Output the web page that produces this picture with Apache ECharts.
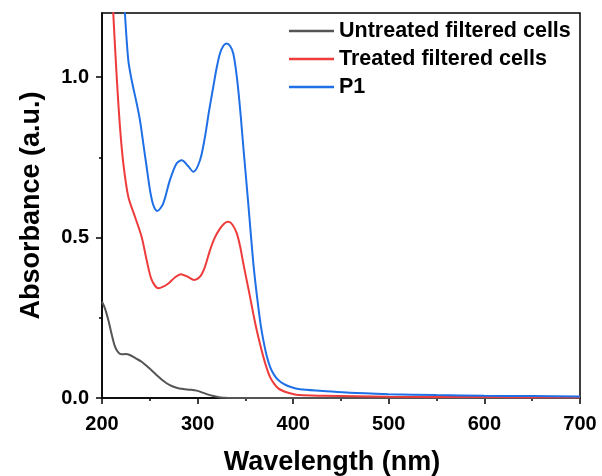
<!DOCTYPE html>
<html>
<head>
<meta charset="utf-8">
<script src="https://cdn.jsdelivr.net/npm/echarts@6/dist/echarts.min.js"></script>
<style>html,body{margin:0;padding:0;background:#fff}#c{width:602px;height:476px}</style>
</head>
<body>
<div id="c"></div>
<script>
const seriesNames = ['Untreated filtered cells', 'Treated filtered cells', 'P1'];
const seriesColors = ['#555555', '#ee3b3b', '#1f6fe6'];

const untreatedWl = [200,203,206.6,210,213.6,217,220.6,225,229,235,241.5,249,257,264,271,278,285,292,299,306,313,320,327,340,400,500,600,700];
const untreatedAbs = [0.30,0.28,0.243,0.20,0.16,0.142,0.136,0.137,0.134,0.124,0.113,0.094,0.072,0.054,0.040,0.032,0.028,0.026,0.023,0.016,0.009,0.004,0.001,0.0,0.0,0.0,0.0,0.0];

const treatedWl = [207,211.8,215.4,218.8,222.3,227.5,234.5,241.5,246.7,252,259,264,269.4,276,282.6,289,296.5,302.5,307.7,313,318,323.4,328,332,336.5,341,344.5,347.8,351.3,354.8,358.3,361.8,365.3,368.7,372.2,375.7,380,384.4,390,396.7,407,431,500,600,700];
const treatedAbs = [1.5,1.198,1.0,0.845,0.731,0.627,0.565,0.502,0.43,0.368,0.342,0.347,0.357,0.375,0.386,0.379,0.368,0.378,0.409,0.461,0.500,0.528,0.544,0.549,0.540,0.513,0.472,0.42,0.368,0.316,0.262,0.212,0.168,0.129,0.094,0.066,0.045,0.030,0.021,0.015,0.009,0.007,0.004,0.003,0.002];

const p1Wl = [219,224,227.5,231,236.3,239.7,243.2,246.7,250.2,253.7,257.8,264,271,278,283.4,290,295.5,302.5,307.7,312,316.4,320,323.4,327,330.4,334,337.3,340,342.6,345.2,347.8,350.4,353,355.6,358.3,361,363.5,366,368.7,372,375.7,380,384.4,390,396.7,407,431,459,500,550,600,650,700];
const p1Abs = [1.45,1.198,1.053,0.991,0.918,0.866,0.793,0.72,0.648,0.601,0.583,0.606,0.679,0.731,0.741,0.723,0.705,0.741,0.814,0.895,0.970,1.030,1.074,1.098,1.105,1.097,1.074,1.025,0.959,0.876,0.783,0.695,0.606,0.513,0.42,0.345,0.284,0.228,0.181,0.135,0.098,0.072,0.056,0.044,0.035,0.027,0.022,0.016,0.012,0.009,0.007,0.006,0.005];

const xTicks = [200, 300, 400, 500, 600, 700];
const yMajorTicks = [0, 0.5, 1.0];
const yMinorTicks = [0.25, 0.75];

function pairs(xs, ys) { return xs.map((x, i) => [x, ys[i]]); }

const FONT = '"Liberation Sans", Arial, sans-serif';
const chart = echarts.init(document.getElementById('c'), null, {renderer: 'canvas'});
const allSeries = [[untreatedWl, untreatedAbs], [treatedWl, treatedAbs], [p1Wl, p1Abs]];

chart.setOption({
  animation: false,
  backgroundColor: '#fff',
  grid: {left: 102, right: 22, top: 13, bottom: 78, show: true, borderColor: '#000', borderWidth: 1.5, containLabel: false, outerBoundsMode: 'none'},
  legend: {
    orient: 'vertical', left: 284, top: 15, padding: 5, itemWidth: 45, itemHeight: 2.5, itemGap: 6,
    icon: 'rect',
    data: seriesNames,
    textStyle: {fontFamily: FONT, fontWeight: 'bold', fontSize: 21.5, color: '#000', lineHeight: 21.5}
  },
  xAxis: {
    type: 'value', min: xTicks[0], max: xTicks[xTicks.length - 1], interval: 100,
    name: 'Wavelength (nm)', nameLocation: 'middle', nameGap: 51,
    nameTextStyle: {fontFamily: FONT, fontWeight: 'bold', fontSize: 27, color: '#000', padding: [0, 18, 0, 0]},
    axisLine: {show: true, lineStyle: {color: '#000', width: 1.5}},
    axisTick: {show: true, inside: false, length: 6, lineStyle: {color: '#000', width: 1.5}},
    minorTick: {show: true, splitNumber: 2, length: 3, lineStyle: {color: '#000', width: 1.5}},
    axisLabel: {margin: 16, fontFamily: FONT, fontWeight: 'bold', fontSize: 20, color: '#000'},
    splitLine: {show: false}, minorSplitLine: {show: false}
  },
  yAxis: [{
    type: 'value', min: 0, max: 1.2,
    name: 'Absorbance (a.u.)', nameLocation: 'middle', nameGap: 57,
    nameTextStyle: {fontFamily: FONT, fontWeight: 'bold', fontSize: 27, color: '#000'},
    axisLine: {show: true, lineStyle: {color: '#000', width: 1.5}},
    axisTick: {show: true, inside: false, length: 6, customValues: yMajorTicks, lineStyle: {color: '#000', width: 1.5}},
    axisLabel: {margin: 13, customValues: yMajorTicks, formatter: v => v.toFixed(1), fontFamily: FONT, fontWeight: 'bold', fontSize: 20, color: '#000'},
    splitLine: {show: false}
  }, {
    type: 'value', min: 0, max: 1.2, position: 'left',
    axisLine: {show: false},
    axisTick: {show: true, inside: false, length: 3, customValues: yMinorTicks, lineStyle: {color: '#000', width: 1.5}},
    axisLabel: {show: false},
    splitLine: {show: false}
  }],
  series: allSeries.map((s, i) => ({
    name: seriesNames[i], type: 'line', yAxisIndex: 0,
    data: pairs(s[0], s[1]),
    smooth: 0.3, symbol: 'none', showSymbol: false, clip: true,
    color: seriesColors[i],
    lineStyle: {color: seriesColors[i], width: 2}
  }))
});
</script>
</body>
</html>
